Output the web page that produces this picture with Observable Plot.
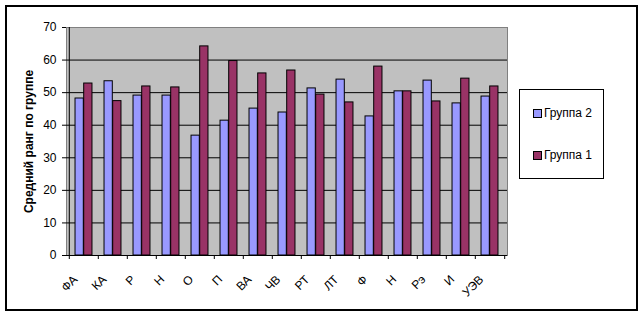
<!DOCTYPE html>
<html><head><meta charset="utf-8">
<script src="https://cdn.jsdelivr.net/npm/d3@7"></script>
<script src="https://cdn.jsdelivr.net/npm/@observablehq/plot@0.6"></script>
<style>
body{margin:0;background:#fff;font-family:"Liberation Sans",Arial,sans-serif;}
#wrap{position:relative;width:643px;height:316px;overflow:hidden;background:#fff}
#border{position:absolute;left:5px;top:5px;width:633px;height:306px;border:2px solid #000;box-sizing:border-box}
#chart{position:absolute;left:0;top:0}
#legend{position:absolute;left:519px;top:89px;width:85px;height:90px;border:1px solid #000;box-sizing:border-box;font-size:12px;background:#fff}
.item{position:absolute;left:13px;display:flex;align-items:center;white-space:nowrap;line-height:14px}
.sw{width:7px;height:7px;border:1px solid #000;margin-right:2px}
</style>
</head><body>
<div id="wrap"><div id="border"></div><div id="chart"></div><div id="legend"></div></div>
<script>
const categories = ["ФА","КА","Р","Н","О","П","ВА","ЧВ","РТ","ЛТ","Ф","Н","Рэ","И","УЭВ"];
const group2 = [48.2,53.5,49.1,49.1,36.8,41.4,45.1,43.9,51.3,54.0,42.7,50.4,53.7,46.7,48.8];
const group1 = [52.8,47.4,51.9,51.6,64.2,59.7,55.9,56.8,49.4,47.0,58.0,50.4,47.3,54.3,51.9];
const seriesNames = ["Группа 2","Группа 1"];
const seriesColors = ["#9999ff","#993366"];
const yTicks = [0,10,20,30,40,50,60,70];
const yTitle = "Средний ранг по группе";

const W = 643, H = 316, ML = 66, MR = 136, MT = 27, MB = 61;
const idx = d3.range(categories.length);
const data = idx.map(i => ({i, g2: group2[i], g1: group1[i]}));
const step = (W - ML - MR) / categories.length;
const gap = step * 0.41;            // space between pairs
const bw = (step - gap) / 2;        // bar width

const chart = Plot.plot({
  width: W, height: H,
  marginLeft: ML, marginRight: MR, marginTop: MT, marginBottom: MB,
  style: {fontFamily: '"Liberation Sans", Arial, sans-serif', fontSize: "12px", background: "transparent", color: "#000"},
  x: {type: "band", domain: idx, padding: 0},
  y: {domain: [0, 70]},
  marks: [
    Plot.frame({fill: "#c0c0c0", stroke: "#808080"}),
    Plot.gridY(yTicks.filter(t => t > 0 && t < 70), {stroke: "#000", strokeOpacity: 1}),
    Plot.barY(data, {x: "i", y: "g2", fill: seriesColors[0], stroke: "#000", strokeWidth: 1,
      insetLeft: gap / 2, insetRight: step - gap / 2 - bw}),
    Plot.barY(data, {x: "i", y: "g1", fill: seriesColors[1], stroke: "#000", strokeWidth: 1,
      insetLeft: gap / 2 + bw, insetRight: gap / 2}),
    Plot.ruleY([0], {stroke: "#000"}),
    Plot.ruleX([0], {dx: -step / 2, y1: 0, y2: 70, stroke: "#000"}),
    Plot.axisY({ticks: yTicks, tickSize: 4, tickPadding: 6, fontSize: 12, label: null}),
    Plot.axisX({ticks: idx, tickSize: 4, tickFormat: () => "", dx: -step / 2, label: null}),
    Plot.axisX({ticks: [idx[idx.length - 1]], tickSize: 4, tickFormat: () => "", dx: step / 2, label: null}),
    Plot.text(data, {x: "i", text: d => categories[d.i], frameAnchor: "bottom", rotate: -45,
      textAnchor: "end", lineAnchor: "middle", dx: -8.5, dy: 22, fontSize: 12, fill: "#000"}),
    Plot.text([yTitle], {text: d => d, frameAnchor: "left", rotate: -90, dx: -37,
      textAnchor: "middle", fontWeight: "bold", fontSize: 12, fill: "#000"})
  ]
});
document.getElementById("chart").appendChild(chart);

const legend = document.getElementById("legend");
const rowTops = [16, 58];
seriesNames.forEach((name, k) => {
  const item = document.createElement("div");
  item.className = "item";
  item.style.top = rowTops[k] + "px";
  const sw = document.createElement("div");
  sw.className = "sw";
  sw.style.background = seriesColors[k];
  item.appendChild(sw);
  item.appendChild(document.createTextNode(name));
  legend.appendChild(item);
});
</script>
</body></html>
